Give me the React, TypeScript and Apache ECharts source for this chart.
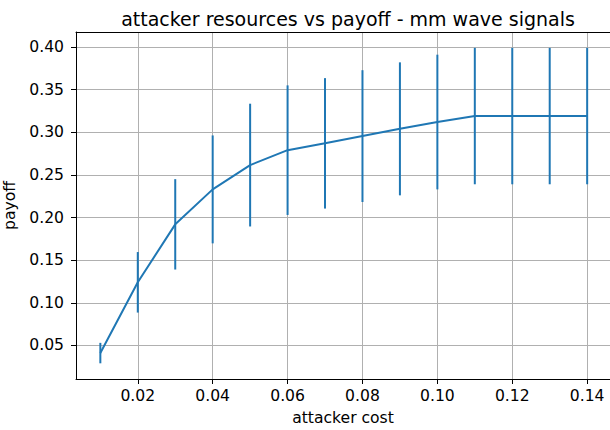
import React, { useEffect, useRef } from "react";
import * as echarts from "echarts";

const costs = [0.01, 0.02, 0.03, 0.04, 0.05, 0.06, 0.07, 0.08, 0.09, 0.1, 0.11, 0.12, 0.13, 0.14];
const payoffMean = [0.041, 0.124, 0.192, 0.233, 0.2615, 0.279, 0.287, 0.2955, 0.304, 0.312, 0.319, 0.319, 0.319, 0.319];
const payoffErr = [0.012, 0.0355, 0.053, 0.0633, 0.072, 0.076, 0.0765, 0.0773, 0.078, 0.079, 0.08, 0.08, 0.08, 0.08];
const xTicks = [0.02, 0.04, 0.06, 0.08, 0.1, 0.12, 0.14];
const yTicks = [0.05, 0.1, 0.15, 0.2, 0.25, 0.3, 0.35, 0.4];

const FONT = "DejaVu Sans";
const BLUE = "#1f77b4";
const FS = 15.6;

export default function App() {
  const ref = useRef<HTMLDivElement>(null);
  useEffect(() => {
    if (!ref.current) return;
    const chart = echarts.init(ref.current, null, { renderer: "svg" });
    const lineData = costs.map((c, i) => [c, payoffMean[i]]);
    const errData = costs.map((c, i) => [c, payoffMean[i] - payoffErr[i], payoffMean[i] + payoffErr[i]]);
    chart.setOption({
      animation: false,
      backgroundColor: "#ffffff",
      title: {
        text: "attacker resources vs payoff - mm wave signals",
        left: 343,
        textAlign: "center",
        top: 4,
        textStyle: { fontFamily: FONT, fontSize: 19, fontWeight: "normal", color: "#000" },
      },
      grid: { left: 76, right: 0, top: 32, bottom: 51, containLabel: false, outerBoundsMode: "none" },
      xAxis: [
        {
          type: "value",
          min: 0.0035,
          max: 0.1461,
          name: "attacker cost",
          nameLocation: "middle",
          nameGap: 31,
          nameTextStyle: { fontFamily: FONT, fontSize: FS, color: "#000" },
          axisLine: { show: true, onZero: false, lineStyle: { color: "#000", width: 1 } },
          axisTick: { show: true, length: 5, customValues: xTicks, lineStyle: { color: "#000", width: 1 } },
          axisLabel: {
            customValues: xTicks,
            fontFamily: FONT,
            fontSize: FS,
            color: "#000",
            margin: 9,
            formatter: (v: number) => v.toFixed(2),
          },
          splitLine: { show: true, lineStyle: { color: "#b0b0b0", width: 1 } },
        },
        {
          type: "value",
          position: "top",
          min: 0.0035,
          max: 0.1461,
          axisLine: { show: true, onZero: false, lineStyle: { color: "#000", width: 1 } },
          axisTick: { show: false },
          axisLabel: { show: false },
          splitLine: { show: false },
        },
      ],
      yAxis: {
        type: "value",
        min: 0.0106,
        max: 0.4176,
        name: "payoff",
        nameLocation: "middle",
        nameGap: 52,
        nameRotate: 90,
        nameTextStyle: { fontFamily: FONT, fontSize: FS, color: "#000" },
        axisLine: { show: true, onZero: false, lineStyle: { color: "#000", width: 1 } },
        axisTick: { show: true, length: 5, customValues: yTicks, lineStyle: { color: "#000", width: 1 } },
        axisLabel: {
          customValues: yTicks,
          fontFamily: FONT,
          fontSize: FS,
          color: "#000",
          margin: 12,
          formatter: (v: number) => v.toFixed(2),
        },
        splitLine: { show: true, lineStyle: { color: "#b0b0b0", width: 1 } },
      },
      series: [
        {
          type: "custom",
          data: errData,
          encode: { x: 0, y: [1, 2] },
          z: 3,
          renderItem: (params: any, api: any) => {
            const x = api.value(0);
            const p1 = api.coord([x, api.value(1)]);
            const p2 = api.coord([x, api.value(2)]);
            return {
              type: "line",
              shape: { x1: p1[0], y1: p1[1], x2: p2[0], y2: p2[1] },
              style: { stroke: BLUE, lineWidth: 2 },
            };
          },
        },
        {
          type: "line",
          data: lineData,
          symbol: "none",
          z: 4,
          lineStyle: { color: BLUE, width: 2 },
        },
      ],
    });
    return () => chart.dispose();
  }, []);
  return (
    <div
      ref={ref}
      style={{ position: "absolute", left: 0, top: 0, width: 610, height: 430 }}
    />
  );
}
